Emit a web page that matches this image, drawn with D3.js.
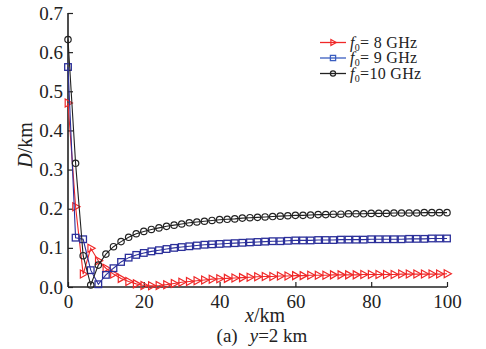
<!DOCTYPE html>
<html><head><meta charset="utf-8">
<script src="https://cdn.jsdelivr.net/npm/d3@7/dist/d3.min.js"></script>
<style>
html,body{margin:0;padding:0;background:#fff;}
svg{display:block;}
text{font-family:"Liberation Serif","Times New Roman",serif;fill:#222;}
</style></head><body>
<script>
const xValues = d3.range(0, 101, 2);
const seriesNames = ["8 GHz", "9 GHz", "10 GHz"];
const d8 = [0.470,0.205,0.033,0.099,0.067,0.048,0.033,0.022,0.014,0.008,0.004,0.003,0.004,0.006,0.009,0.012,0.014,0.016,0.018,0.020,0.021,0.022,0.023,0.024,0.025,0.026,0.027,0.027,0.028,0.028,0.029,0.029,0.030,0.030,0.030,0.031,0.031,0.031,0.031,0.032,0.032,0.032,0.032,0.032,0.033,0.033,0.033,0.033,0.033,0.033,0.034];
const d9 = [0.562,0.126,0.122,0.043,0.007,0.031,0.048,0.064,0.075,0.082,0.087,0.091,0.094,0.097,0.100,0.102,0.104,0.106,0.108,0.109,0.110,0.111,0.112,0.113,0.114,0.115,0.116,0.117,0.117,0.118,0.119,0.119,0.119,0.120,0.120,0.120,0.121,0.121,0.121,0.121,0.122,0.122,0.122,0.122,0.122,0.123,0.123,0.123,0.124,0.124,0.124];
const d10 = [0.632,0.316,0.080,0.005,0.056,0.084,0.103,0.116,0.127,0.136,0.142,0.147,0.151,0.155,0.158,0.161,0.164,0.166,0.168,0.170,0.172,0.173,0.174,0.176,0.177,0.178,0.179,0.180,0.181,0.182,0.183,0.183,0.184,0.185,0.185,0.186,0.186,0.187,0.187,0.187,0.188,0.188,0.188,0.189,0.189,0.189,0.189,0.190,0.190,0.190,0.190];
const xTicks = [0,20,40,60,80,100];
const yTicks = [0,0.1,0.2,0.3,0.4,0.5,0.6,0.7];

const W = 486, H = 349;
const svg = d3.select("body").append("svg").attr("width", W).attr("height", H);
const x = d3.scaleLinear().domain([0,100]).range([68,447]);
const y = d3.scaleLinear().domain([0,0.7]).range([287,13]);

const xAxis = d3.axisBottom(x).tickValues(xTicks).tickSizeInner(-5).tickSizeOuter(0).tickPadding(8).tickFormat(d3.format("d"));
const yAxis = d3.axisLeft(y).tickValues(yTicks).tickSizeInner(-5).tickSizeOuter(0).tickPadding(5).tickFormat(d3.format(".1f"));
const gx = svg.append("g").attr("transform","translate(0,287)").call(xAxis);
const gy = svg.append("g").attr("transform","translate(68,0)").call(yAxis);
[gx,gy].forEach(g=>{
  g.select(".domain").attr("stroke","#222").attr("stroke-width",1.6);
  g.selectAll(".tick line").attr("stroke","#222").attr("stroke-width",1.2);
  g.selectAll(".tick text").attr("font-family","Liberation Serif").attr("font-size",19).attr("fill","#222");
});
gy.select(".domain").attr("d","M0,13V287");
gx.select(".domain").attr("d","M68,0H447");

const series = [
  {name:seriesNames[0], vals:d8, color:"#f02828", mark:"tri"},
  {name:seriesNames[1], vals:d9, color:"#2b2f9a", mark:"sq"},
  {name:seriesNames[2], vals:d10, color:"#222222", mark:"circ"}
];
const line = d3.line().x((d,i)=>x(xValues[i])).y(d=>y(d));
function drawMarker(g, type, cx, cy, color, s){
  if(type==="tri"){
    g.append("path").attr("d",`M${cx-s*0.7},${cy-s}L${cx+s*1.1},${cy}L${cx-s*0.7},${cy+s}Z`)
      .attr("fill","none").attr("stroke",color).attr("stroke-width",1.2);
  } else if(type==="sq"){
    g.append("rect").attr("x",cx-s).attr("y",cy-s).attr("width",2*s).attr("height",2*s)
      .attr("fill","none").attr("stroke",color).attr("stroke-width",1.3);
  } else {
    g.append("circle").attr("cx",cx).attr("cy",cy).attr("r",s)
      .attr("fill","none").attr("stroke",color).attr("stroke-width",1.2);
  }
}
const plot = svg.append("g");
series.forEach(s=>{
  plot.append("path").datum(s.vals).attr("d",line).attr("fill","none").attr("stroke",s.color).attr("stroke-width",1.1);
  const gm = plot.append("g");
  s.vals.forEach((v,i)=>{
    const sz = s.mark==="tri"?4:(s.mark==="sq"?3.3:3.2);
    drawMarker(gm, s.mark, x(xValues[i]), y(v), s.color, sz);
  });
});

// legend
const leg = svg.append("g");
const legColors = ["#f02828","#3a5ec0","#222222"];
series.forEach((s,i)=>{
  const ly = 42.5 + i*15.5;
  leg.append("line").attr("x1",320).attr("x2",346).attr("y1",ly).attr("y2",ly).attr("stroke",legColors[i]).attr("stroke-width",1.3);
  drawMarker(leg, s.mark, 333, ly, legColors[i], s.mark==="tri"?3:2.6);
  const t = leg.append("text").attr("x",350).attr("y",ly+5).attr("font-size",16).attr("letter-spacing",0.3);
  t.append("tspan").attr("font-style","italic").text("f");
  t.append("tspan").attr("font-size",10).attr("dy",3).text("0");
  t.append("tspan").attr("dy",-3).text(i<2 ? "= "+s.name : "="+s.name);
});

// axis titles
const xl = svg.append("text").attr("x",265).attr("y",322).attr("text-anchor","middle").attr("font-size",20);
xl.append("tspan").attr("font-style","italic").text("x");
xl.append("tspan").text("/km");
const yl = svg.append("text").attr("transform","translate(32,145) rotate(-90)").attr("text-anchor","middle").attr("font-size",20);
yl.append("tspan").attr("font-style","italic").text("D");
yl.append("tspan").text("/km");

// caption
const cap = svg.append("text").attr("x",262).attr("y",342).attr("text-anchor","middle").attr("font-size",19);
cap.append("tspan").text("(a)");
cap.append("tspan").attr("dx",12).attr("font-style","italic").text("y");
cap.append("tspan").text("=2 km");
</script>
</body></html>
